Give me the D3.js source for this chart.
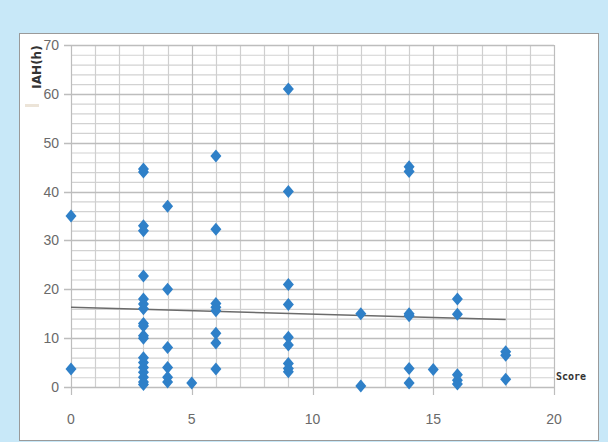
<!DOCTYPE html>
<html><head><meta charset="utf-8">
<script src="https://cdn.jsdelivr.net/npm/d3@7"></script>
<style>body{margin:0;background:#c8e8f8;}svg{display:block;}</style>
</head><body>
<svg id="c" width="608" height="442"></svg>
<script>
const scoreX = [0,0, 3,3,3,3,3,3,3,3,3,3,3,3,3,3,3,3,3,3,3,
  4,4,4,4,4,4, 5, 6,6,6,6,6,6,6,6, 9,9,9,9,9,9,9,9,9, 12,12,
  14,14,14,14,14,14, 15, 16,16,16,16,16, 18,18,18];
const iahY = [35,3.7, 44.6,44,33,32,22.7,18,17,16,13,12.5,10.5,10,6,5,4,3,2,1,0.5,
  37,20,8.1,4,2,1, 0.8, 47.3,32.3,17.1,16.3,15.6,11,9,3.7, 61,40,21,16.9,10.2,8.6,4.8,3.8,3.1, 15,0.2,
  45.1,44.1,15,14.6,3.8,0.8, 3.6, 18,14.9,2.5,1.4,0.6, 7.2,6.5,1.6];
const xTicks = [0,5,10,15,20];
const yTicks = [0,10,20,30,40,50,60,70];
const trendX = [0,18];
const trendY = [16.3,13.8];

const svg = d3.select("#c");
svg.append("rect").attr("x",0).attr("y",0).attr("width",608).attr("height",442).attr("fill","#c8e8f8");
svg.append("rect").attr("x",19.5).attr("y",33.5).attr("width",579).attr("height",407)
  .attr("fill","#ffffff").attr("stroke","#9a9a9a").attr("stroke-width",1);
svg.append("rect").attr("x",25).attr("y",104).attr("width",14).attr("height",3).attr("fill","#ece4d8");

const x = d3.scaleLinear().domain([0,20]).range([71,554]);
const y = d3.scaleLinear().domain([0,70]).range([387,45]);

const g = svg.append("g");
g.selectAll("line.hmin").data(d3.range(0,71,2).filter(v=>v%10!==0)).enter().append("line")
  .attr("x1",x(0)).attr("x2",x(20)).attr("y1",d=>y(d)+0.5).attr("y2",d=>y(d)+0.5)
  .attr("stroke","#d2d2d2").attr("stroke-width",1.2);
g.selectAll("line.v").data(d3.range(1,21)).enter().append("line")
  .attr("x1",d=>Math.round(x(d))+0.5).attr("x2",d=>Math.round(x(d))+0.5)
  .attr("y1",y(70)).attr("y2",d=>d%5===0? y(0)+8 : y(0))
  .attr("stroke",d=>d%5===0?"#bdbdbd":"#cfcfcf").attr("stroke-width",1.2);
g.selectAll("line.hmaj").data(yTicks).enter().append("line")
  .attr("x1",x(0)-7).attr("x2",x(20)).attr("y1",d=>Math.round(y(d))+0.5).attr("y2",d=>Math.round(y(d))+0.5)
  .attr("stroke","#bdbdbd").attr("stroke-width",1.4);
g.append("line").attr("x1",Math.round(x(0))+0.5).attr("x2",Math.round(x(0))+0.5)
  .attr("y1",y(70)).attr("y2",y(0)+8).attr("stroke","#bdbdbd").attr("stroke-width",1.2);

g.selectAll("text.yt").data(yTicks).enter().append("text")
  .attr("x",59).attr("y",d=>y(d)+5).attr("text-anchor","end")
  .attr("font-family","Liberation Sans Narrow, Liberation Sans, Arial, sans-serif").attr("font-size",14)
  .attr("fill","#6a6a6a").text(d=>d);
g.selectAll("text.xt").data(xTicks).enter().append("text")
  .attr("x",d=>x(d)).attr("y",424).attr("text-anchor","middle")
  .attr("font-family","Liberation Sans Narrow, Liberation Sans, Arial, sans-serif").attr("font-size",14)
  .attr("fill","#6a6a6a").text(d=>d);

svg.append("text").attr("transform","translate(41,67) rotate(-90)")
  .attr("text-anchor","middle").attr("font-family","DejaVu Sans, sans-serif")
  .attr("font-weight","bold").attr("font-size",12).attr("fill","#333").text("IAH(h)");
svg.append("text").attr("x",556).attr("y",380)
  .attr("font-family","DejaVu Sans Mono, monospace").attr("font-weight","bold")
  .attr("font-size",10).attr("fill","#333").text("Score");

svg.append("line").attr("x1",x(trendX[0])).attr("y1",y(trendY[0]))
  .attr("x2",x(trendX[1])).attr("y2",y(trendY[1]))
  .attr("stroke","#6b6b6b").attr("stroke-width",1.5);

const pts = scoreX.map((s,i)=>({s, v: iahY[i]}));
const dw = 5.5, dh = 6.5;
svg.selectAll("path.pt").data(pts).enter().append("path")
  .attr("d",`M0,${-dh}L${dw},0L0,${dh}L${-dw},0Z`)
  .attr("transform",d=>`translate(${x(d.s)},${y(d.v)})`)
  .attr("fill","#2f80c8");
</script>
</body></html>
